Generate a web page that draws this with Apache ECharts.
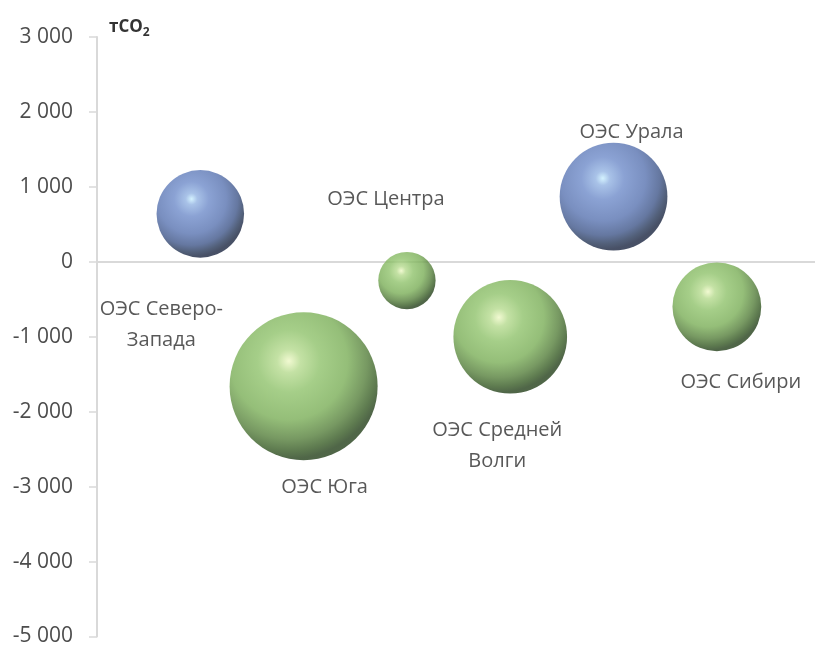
<!DOCTYPE html>
<html>
<head>
<meta charset="utf-8">
<script src="https://cdn.jsdelivr.net/npm/echarts@6/dist/echarts.min.js"></script>
<style>
  html, body { margin: 0; padding: 0; background: #ffffff; }
  #chart { width: 815px; height: 647px; }
</style>
</head>
<body>
<div id="chart"></div>
<script>
// Energy systems (ОЭС) and their CO2 balance, tCO2
const regions = [
  'ОЭС Северо-\nЗапада',
  'ОЭС Юга',
  'ОЭС Центра',
  'ОЭС Средней\nВолги',
  'ОЭС Урала',
  'ОЭС Сибири'
];
const xPositions = [1, 2, 3, 4, 5, 6];
const co2Values = [640, -1660, -250, -1000, 870, -600];
const bubbleSizes = [350, 1000, 150, 590, 530, 360];
const yTicks = [-5000, -4000, -3000, -2000, -1000, 0, 1000, 2000, 3000];

// Label placement around each bubble (pixel offsets from the centre)
const labelOffsets = [[-39, 111], [21, 101], [-21, -81], [-13, 109], [18, -64], [24, 76]];

const maxBubble = Math.max(...bubbleSizes);
const maxRadius = 74;

function sphere(stops) {
  return {
    type: 'radial', x: 0.4, y: 0.33, r: 0.66,
    colorStops: stops
  };
}
const blueSphere = sphere([
  { offset: 0, color: '#c9efff' },
  { offset: 0.1, color: '#93b3e2' },
  { offset: 0.3, color: '#6e8bc9' },
  { offset: 0.6, color: '#5873b0' },
  { offset: 0.8, color: '#3f5689' },
  { offset: 0.92, color: '#273858' },
  { offset: 1, color: '#1a2540' }
]);
const greenSphere = sphere([
  { offset: 0, color: '#eef8c6' },
  { offset: 0.12, color: '#b5da8e' },
  { offset: 0.32, color: '#8fc26b' },
  { offset: 0.6, color: '#7aae57' },
  { offset: 0.8, color: '#557f3b' },
  { offset: 0.92, color: '#365a24' },
  { offset: 1, color: '#24401a' }
]);

function fmt(v) {
  const s = Math.abs(v).toString().replace(/\B(?=(\d{3})+(?!\d))/g, ' ');
  return (v < 0 ? '-' : '') + s;
}

const data = regions.map((name, i) => ({
  name: name,
  value: [xPositions[i], co2Values[i], bubbleSizes[i]],
  itemStyle: { color: co2Values[i] >= 0 ? blueSphere : greenSphere },
  label: { offset: labelOffsets[i] }
}));

const chart = echarts.init(document.getElementById('chart'), null, { renderer: 'canvas' });
chart.setOption({
  animation: false,
  backgroundColor: '#ffffff',
  textStyle: { fontFamily: '"Open Sans", sans-serif' },
  title: {
    text: '{a|тCO}{b|2}',
    left: 104, top: 10,
    textStyle: {
      rich: {
        a: { fontFamily: '"Open Sans", sans-serif', fontSize: 17, fontWeight: 'bold', color: '#333333' },
        b: { fontFamily: '"Open Sans", sans-serif', fontSize: 12, fontWeight: 'bold', color: '#333333', padding: [12, 0, 0, 0] }
      }
    }
  },
  grid: { left: 97, right: 0, top: 37, bottom: 9, containLabel: false },
  xAxis: {
    type: 'value',
    min: 0, max: 6.95,
    axisLine: { onZero: true, lineStyle: { color: '#d9d9d9', width: 2 } },
    axisTick: { show: false },
    axisLabel: { show: false },
    splitLine: { show: false }
  },
  yAxis: {
    type: 'value',
    min: yTicks[0], max: yTicks[yTicks.length - 1], interval: 1000,
    axisLine: { show: true, onZero: false, lineStyle: { color: '#d9d9d9', width: 2 } },
    axisTick: { show: true, inside: false, length: 8, lineStyle: { color: '#d9d9d9', width: 1.5 } },
    axisLabel: {
      margin: 24, fontSize: 21, color: '#4d4d4d',
      fontFamily: '"Open Sans", sans-serif',
      formatter: fmt
    },
    splitLine: { show: false }
  },
  series: [{
    type: 'scatter',
    data: data,
    symbol: 'circle',
    symbolSize: v => 2 * maxRadius * Math.sqrt(v[2] / maxBubble),
    label: {
      show: true,
      position: 'inside',
      formatter: p => p.name,
      fontSize: 20,
      lineHeight: 31,
      align: 'center',
      color: '#2e2e2e',
      fontFamily: '"Open Sans", sans-serif'
    },
    z: 3
  }]
});
</script>
</body>
</html>
